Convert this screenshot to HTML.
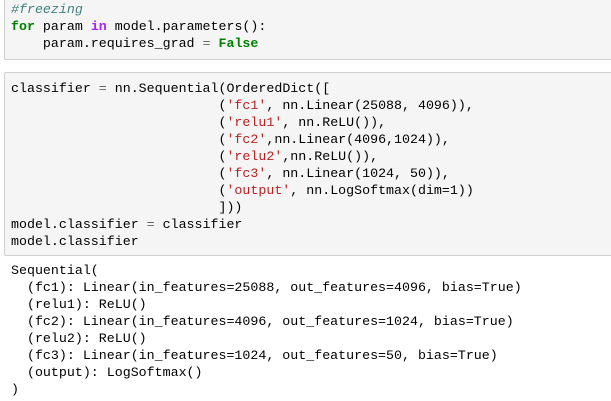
<!DOCTYPE html>
<html><head><style>
body{margin:0;width:611px;height:401px;background:#fff;overflow:hidden;position:relative;font-family:"Liberation Mono",monospace;font-size:13.3px;}
.cell{position:absolute;left:4px;width:620px;background:#f5f5f5;border:1px solid #cfcfcf;border-radius:2px;}
pre{margin:0;font-family:inherit;font-size:inherit;line-height:17px;position:absolute;left:11px;white-space:pre;color:#000;}
.c{color:#408080;font-style:italic}.k{color:#008000;font-weight:bold}.o{color:#aa22ff;font-weight:bold}.s{color:#ba2121}.p{color:#666}
</style></head><body>
<div class="cell" style="top:-5px;height:63px"></div>
<div class="cell" style="top:72px;height:182px"></div>
<pre style="top:1px"><span class="c">#freezing</span>
<span class="k">for</span> param <span class="o">in</span> model.parameters():
    param.requires_grad <span class="p">=</span> <span class="k">False</span></pre>
<pre style="top:80px">classifier <span class="p">=</span> nn.Sequential(OrderedDict([
                          (<span class="s">'fc1'</span>, nn.Linear(25088, 4096)),
                          (<span class="s">'relu1'</span>, nn.ReLU()),
                          (<span class="s">'fc2'</span>,nn.Linear(4096,1024)),
                          (<span class="s">'relu2'</span>,nn.ReLU()),
                          (<span class="s">'fc3'</span>, nn.Linear(1024, 50)),
                          (<span class="s">'output'</span>, nn.LogSoftmax(dim=1))
                          ]))
model.classifier <span class="p">=</span> classifier
model.classifier</pre>
<pre style="top:262px">Sequential(
  (fc1): Linear(in_features=25088, out_features=4096, bias=True)
  (relu1): ReLU()
  (fc2): Linear(in_features=4096, out_features=1024, bias=True)
  (relu2): ReLU()
  (fc3): Linear(in_features=1024, out_features=50, bias=True)
  (output): LogSoftmax()
)</pre>
</body></html>
